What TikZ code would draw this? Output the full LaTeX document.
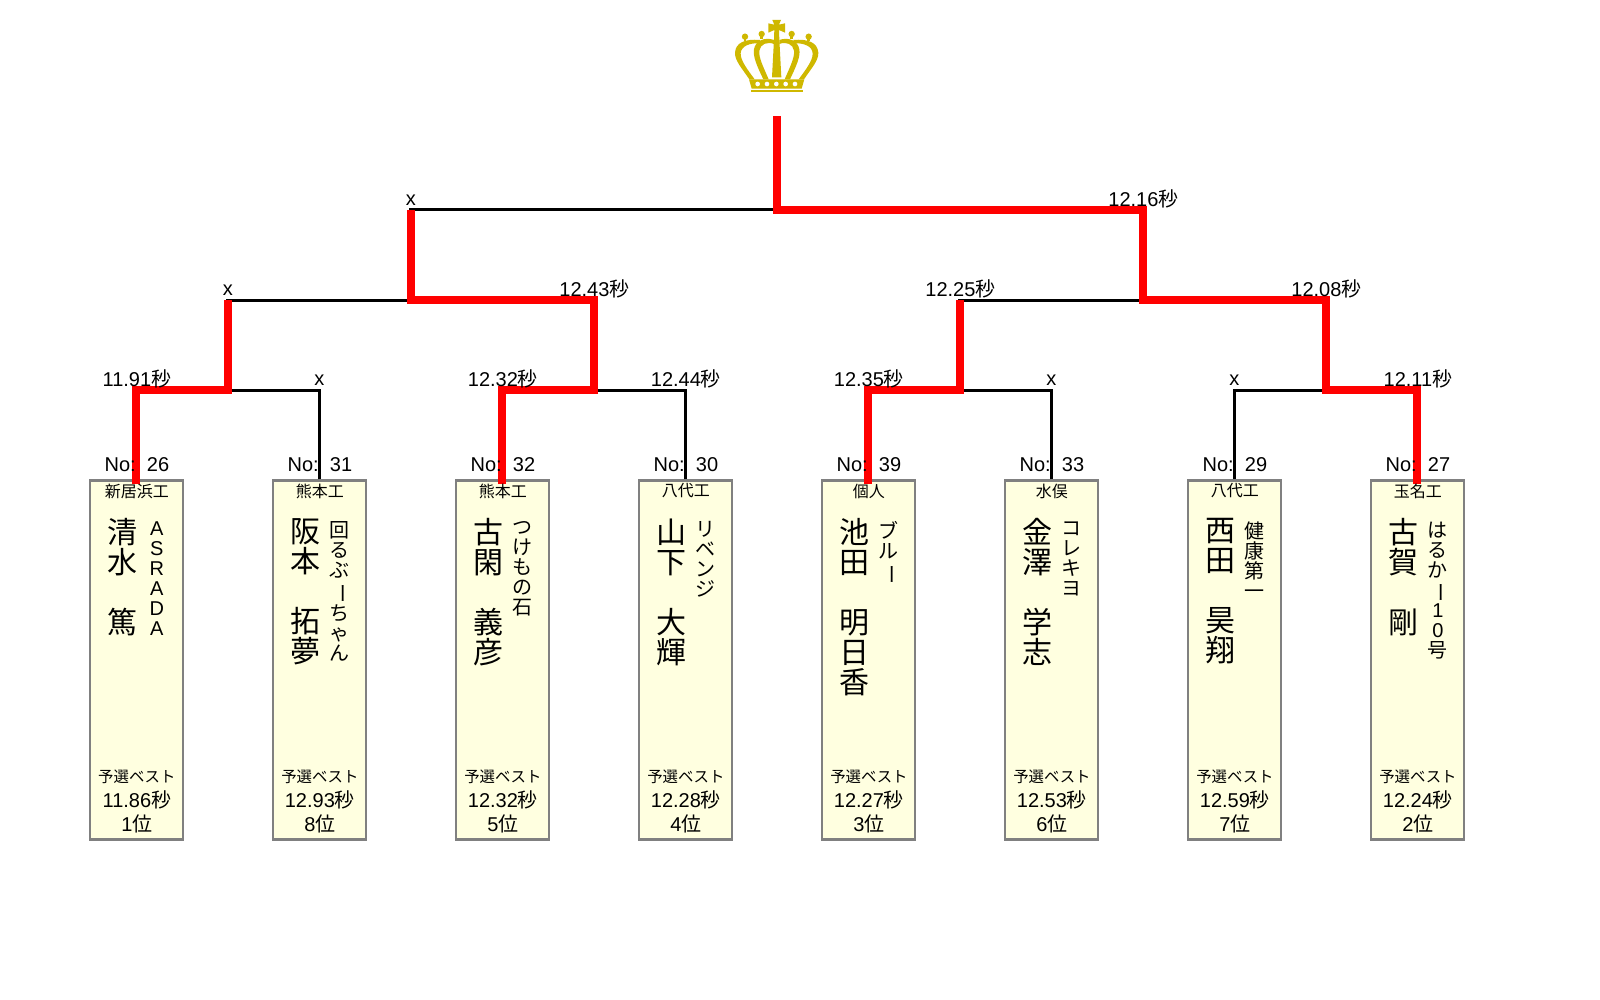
\documentclass[tikz,border=0pt]{standalone}
\usepackage{fontspec}
\setmainfont{Liberation Sans}
\newfontfamily\cjk{Noto Sans CJK JP}
\definecolor{crowncol}{HTML}{CFB800}
\definecolor{boxfill}{HTML}{FFFFE0}
\definecolor{boxline}{HTML}{808080}
\newcommand{\fs}[1]{\fontsize{#1}{#1}\selectfont}
\newcommand{\vb}{\rotatebox[origin=c]{-90}{\cjk ー}}
\newcommand{\la}[1]{{\fontspec{Liberation Sans}#1}}
\tikzset{
  playerbox/.style={draw=boxline,fill=boxfill,line width=2.4pt,minimum width=93pt,minimum height=359pt,inner sep=0pt},
  lose/.style={draw=black,line width=3pt},
  win/.style={draw=red,line width=8pt,line join=miter},
  lab/.style={inner sep=0pt,font=\fs{20}\cjk,anchor=center,text=black},
  small/.style={inner sep=0pt,font=\fs{16}\cjk,anchor=center,text=black},
  smaller/.style={inner sep=0pt,font=\fs{15.4}\cjk,anchor=center,text=black},
  namecol/.style={inner sep=0pt,anchor=north,align=center,font=\fs{30}\cjk,text width=32pt},
  nickcol/.style={inner sep=0pt,anchor=north,align=center,font=\fs{20}\cjk,text width=24pt},
}
\newcommand{\tm}[1]{\la{#1}秒}
\newcommand{\player}[2]{%
  \node[playerbox] (#1) at (#2,660) {};
  \coordinate (#1t) at (#2,484);
}
\newcommand{\playertext}[8]{%
  \node[lab] (#1no) at (#2,464.5) {\la{No:\ \ #3}};
  \node[small] (#1sc) at (#2,491) {#4};
  \node[namecol] (#1nm) at ({#2-14.7},518.5) {#5};
  \node[nickcol] (#1nk) at ({#2+20},521.5) {#6};
  \node[smaller] (#1q) at (#2,776.5) {予選ベスト};
  \node[lab] (#1ti) at (#2,799.5) {\tm{#7}};
  \node[lab] (#1ra) at (#2,824) {\la{#8}位};
}
\begin{document}
\begin{tikzpicture}[x=1pt,y=-1pt]
\useasboundingbox (0,0) rectangle (1600,1000);
\fill[white] (0,0) rectangle (1600,1000);
% boxes
\player{p1}{136.4}
\player{p2}{319.4}
\player{p3}{502.4}
\player{p4}{685.4}
\player{p5}{868.4}
\player{p6}{1051.4}
\player{p7}{1234.4}
\player{p8}{1417.4}
% junctions
\coordinate (a) at (227.9,390);
\coordinate (b) at (593.9,390);
\coordinate (c) at (959.9,390);
\coordinate (d) at (1325.9,390);
\coordinate (e) at (410.9,300);
\coordinate (f) at (1142.9,300);
\coordinate (g) at (776.9,210);
\coordinate (top) at (776.9,116);
% losing connectors
\draw[lose] (p2.north) |- (a);
\draw[lose] (p4.north) |- (b);
\draw[lose] (p6.north) |- (c);
\draw[lose] (p7.north) |- (d);
\draw[lose] (a) |- (e);
\draw[lose] (c) |- (f);
\draw[lose] (e) |- (g);
% winning connectors
\draw[win] (p1t) |- (a) -- (a |- e);
\draw[win] (p3t) |- (b) -- (b |- e) -- (e) -- (e |- g);
\draw[win] (p5t) |- (c) -- (c |- f);
\draw[win] (p8t) |- (d) -- (d |- f) -- (f) -- (f |- g) -- (g) -- (top);
% labels on the bracket
\node[lab] (l1) at (136.9,379) {\tm{11.91}};
\node[lab] (l2) at (319.4,380) {\la{x}};
\node[lab] (l3) at (502.9,379) {\tm{12.32}};
\node[lab] (l4) at (685.9,379) {\tm{12.44}};
\node[lab] (l5) at (868.9,379) {\tm{12.35}};
\node[lab] (l6) at (1051.4,380) {\la{x}};
\node[lab] (l7) at (1234.4,380) {\la{x}};
\node[lab] (l8) at (1417.9,379) {\tm{12.11}};
\node[lab] (la) at (227.9,290.5) {\la{x}};
\node[lab] (lb) at (594.4,289) {\tm{12.43}};
\node[lab] (lc) at (960.4,289) {\tm{12.25}};
\node[lab] (ld) at (1326.4,289) {\tm{12.08}};
\node[lab] (le) at (410.9,200.5) {\la{x}};
\node[lab] (lf) at (1143.4,199) {\tm{12.16}};
% box text
\playertext{p1}{136.9}{26}{新居浜工}{清\\水\\\mbox{}\\篤}{\la{A}\\\la{S}\\\la{R}\\\la{A}\\\la{D}\\\la{A}}{11.86}{1}
\playertext{p2}{319.9}{31}{熊本工}{阪\\本\\\mbox{}\\拓\\夢}{回\\る\\ぶ\\\vb\\ち\\ゃ\\ん}{12.93}{8}
\playertext{p3}{502.9}{32}{熊本工}{古\\閑\\\mbox{}\\義\\彦}{つ\\け\\も\\の\\石}{12.32}{5}
\playertext{p4}{685.9}{30}{八代工}{山\\下\\\mbox{}\\大\\輝}{リ\\ベ\\ン\\ジ}{12.28}{4}
\playertext{p5}{868.9}{39}{個人}{池\\田\\\mbox{}\\明\\日\\香}{ブ\\ル\\\vb}{12.27}{3}
\playertext{p6}{1051.9}{33}{水俣}{金\\澤\\\mbox{}\\学\\志}{コ\\レ\\キ\\ヨ}{12.53}{6}
\playertext{p7}{1234.9}{29}{八代工}{西\\田\\\mbox{}\\昊\\翔}{健\\康\\第\\一}{12.59}{7}
\playertext{p8}{1417.9}{27}{玉名工}{古\\賀\\\mbox{}\\剛}{は\\る\\か\\\vb\\\la{1}\\\la{0}\\号}{12.24}{2}
% crown
\begin{scope}[shift={(680,0)},x=0.3333pt,y=-0.3333pt,crowncol]
  \fill (213,270) rectangle (368,277);
  \fill (207,238) -- (373,238) -- (365,266) -- (215,266) -- cycle;
  \foreach \u in {233,261,289,317,345} \fill[white] (\u,252) circle (7);
  \fill (277,60) -- (303,60) -- (297,74) -- (315,70) -- (315,98) -- (297,90) -- (298,118) -- (304,232) -- (276,232) -- (282,118) -- (283,90) -- (265,98) -- (265,70) -- (283,74) -- cycle;
  \foreach \u/\v in {195/110,245/102,335/102,386/110} \fill (\u,\v) circle (9.5);
  \fill (208,238) .. controls (186,205) and (164,182) .. (165,158) .. controls (167,128) and (195,116) .. (240,120) -- (240,130) .. controls (210,128) and (183,138) .. (182,160) .. controls (181,182) and (205,212) .. (224,238) -- cycle;
  \fill (372,238) .. controls (394,205) and (416,182) .. (415,158) .. controls (413,128) and (385,116) .. (340,120) -- (340,130) .. controls (370,128) and (397,138) .. (398,160) .. controls (399,182) and (375,212) .. (356,238) -- cycle;
  \fill (250,238) .. controls (232,200) and (218,170) .. (222,148) .. controls (226,122) and (255,110) .. (282,120) -- (282,132) .. controls (262,124) and (241,132) .. (238,152) .. controls (235,172) and (252,205) .. (266,238) -- cycle;
  \fill (330,238) .. controls (348,200) and (362,170) .. (358,148) .. controls (354,122) and (325,110) .. (298,120) -- (298,132) .. controls (318,124) and (339,132) .. (342,152) .. controls (345,172) and (328,205) .. (314,238) -- cycle;
  \fill (191,112) rectangle (199,124);
  \fill (381,112) rectangle (389,124);
  \fill (241,104) rectangle (249,118);
  \fill (331,104) rectangle (339,118);
\end{scope}
\end{tikzpicture}
\end{document}
